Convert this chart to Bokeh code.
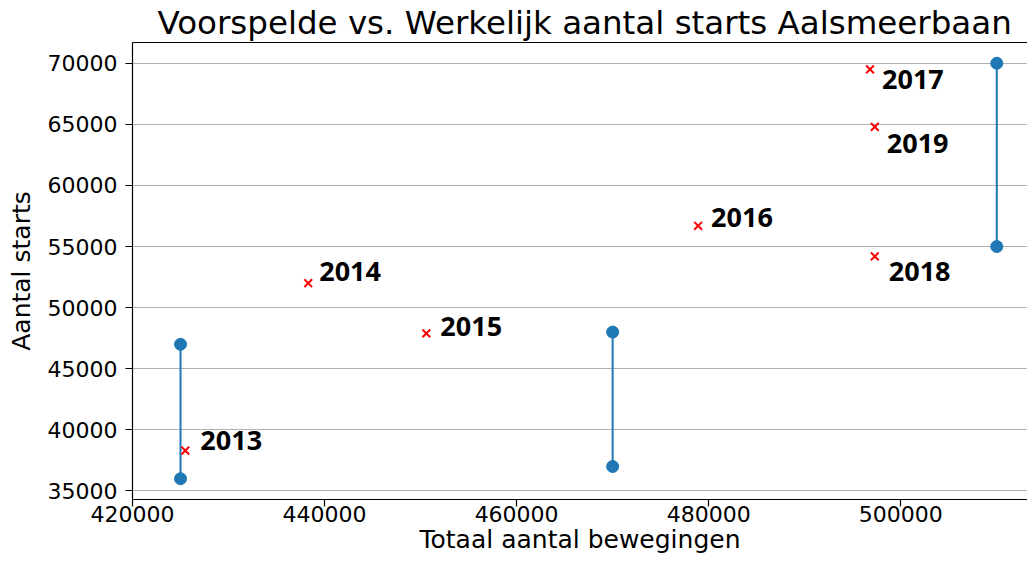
from bokeh.plotting import figure
from bokeh.models import (ColumnDataSource, LabelSet, FixedTicker, LinearAxis,
                          Range1d, BasicTickFormatter)
from bokeh.core.properties import value
from bokeh.embed import file_html
from bokeh.resources import INLINE

# ---- data ----
pred_x = [425000, 470000, 510000]
pred_low = [36000, 37000, 55000]
pred_high = [47000, 48000, 70000]

years = ["2013", "2014", "2015", "2016", "2017", "2018", "2019"]
actual_x = [425500, 438300, 450600, 478900, 496800, 497300, 497300]
actual_y = [38300, 52000, 47900, 56700, 69500, 54200, 64800]

x_ticks = [420000, 440000, 460000, 480000, 500000]
y_ticks = [35000, 40000, 45000, 50000, 55000, 60000, 65000, 70000]

# label offsets in screen pixels (layout only)
label_dx = [15, 11, 14, 13, 12, 14, 12]
label_dy = [10, 12, 7, 8, -10, -15, -17]

FONT = "DejaVu Sans"

p = figure(width=1027, height=557, output_backend="svg", toolbar_location=None,
           x_range=Range1d(420000, 513200), y_range=Range1d(34300, 71700),
           title="Voorspelde vs. Werkelijk aantal starts Aalsmeerbaan",
           min_border_left=132, min_border_right=0, min_border_top=42,
           min_border_bottom=58)

p.outline_line_color = None
p.background_fill_color = "white"
p.border_fill_color = "white"

p.title.text_font = FONT
p.title.text_font_size = "32.5px"
p.title.text_font_style = "normal"
p.title.text_color = "black"
p.title.align = "left"
p.title.offset = 25
p.title.standoff = 1

p.xgrid.grid_line_color = None
p.ygrid.grid_line_color = "#b0b0b0"
p.ygrid.grid_line_width = 1

for ax in (p.xaxis[0], p.yaxis[0]):
    ax.major_label_text_font = FONT
    ax.major_label_text_font_size = "22px"
    ax.major_label_text_color = "black"
    ax.axis_label_text_font = FONT
    ax.axis_label_text_font_size = "25px"
    ax.axis_label_text_font_style = "normal"
    ax.axis_label_text_color = "black"
    ax.axis_line_color = "black"
    ax.axis_line_width = 1.2
    ax.major_tick_line_color = "black"
    ax.major_tick_line_width = 1.2
    ax.major_tick_out = 7
    ax.major_tick_in = 0
    ax.minor_tick_line_color = None
    ax.formatter = BasicTickFormatter(use_scientific=False)

p.xaxis[0].ticker = FixedTicker(ticks=x_ticks)
p.yaxis[0].ticker = FixedTicker(ticks=y_ticks)
p.xaxis[0].axis_label = "Totaal aantal bewegingen"
p.yaxis[0].axis_label = "Aantal starts"
p.xaxis[0].major_label_standoff = -1
p.xaxis[0].axis_label_standoff = 0
p.yaxis[0].major_label_standoff = 8
p.yaxis[0].axis_label_standoff = 9

top = LinearAxis(ticker=FixedTicker(ticks=[]), major_label_text_font_size="0px",
                 major_tick_line_color=None, minor_tick_line_color=None,
                 major_tick_out=0, major_tick_in=0, major_label_standoff=0,
                 axis_line_color="black", axis_line_width=1.2)
p.add_layout(top, "above")

pred_src = ColumnDataSource(dict(x=pred_x, low=pred_low, high=pred_high))
p.segment(x0="x", y0="low", x1="x", y1="high", source=pred_src,
          line_color="#1f77b4", line_width=2)
p.scatter(x="x", y="low", source=pred_src, size=12, marker="circle",
          fill_color="#1f77b4", line_color="#1f77b4")
p.scatter(x="x", y="high", source=pred_src, size=12, marker="circle",
          fill_color="#1f77b4", line_color="#1f77b4")

act_src = ColumnDataSource(dict(x=actual_x, y=actual_y, year=years,
                                dx=label_dx, dy=label_dy))
p.scatter(x="x", y="y", source=act_src, marker="x", size=11,
          line_color="red", line_width=2)

labels = LabelSet(x="x", y="y", text="year", source=act_src,
                  x_offset="dx", y_offset="dy",
                  text_font=value("Open Sans"), text_font_style="bold",
                  text_font_size="27px", text_color="black",
                  text_align="left", text_baseline="middle",
                  background_fill_color="white", background_fill_alpha=1.0)
p.add_layout(labels)

open("out.html", "w").write(file_html(p, INLINE))
